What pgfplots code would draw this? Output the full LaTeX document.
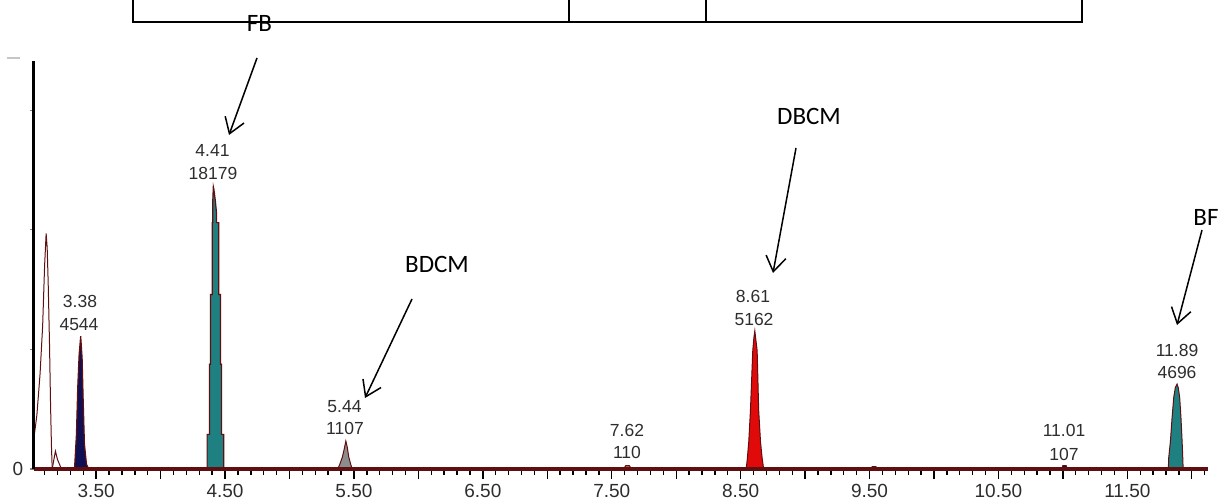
\documentclass[border=0pt]{standalone}
\usepackage{pgfplots}
\pgfplotsset{compat=1.18}
\usepackage{fontspec}
\setmainfont{Liberation Sans}
\newfontfamily\calibri{Carlito}
\usetikzlibrary{arrows.meta}
\definecolor{maroonline}{RGB}{95,15,15}
\definecolor{tealpk}{RGB}{30,128,128}
\definecolor{navypk}{RGB}{15,15,85}
\definecolor{redpk}{RGB}{225,10,10}
\definecolor{graypk}{RGB}{140,140,140}
\definecolor{orangepk}{RGB}{200,110,60}
\definecolor{lbl}{RGB}{45,45,45}
\begin{document}
\begin{tikzpicture}[x=0.5pt,y=0.5pt]
\path[use as bounding box] (0,0) rectangle (1221,499);
\begin{axis}[
  at={(26,25)}, anchor=south west,
  scale only axis, width=587pt, height=204pt,
  xmin=3.014, xmax=12.122, ymin=0, ymax=3.41,
  axis x line=bottom, axis y line=left,
  x axis line style={-, draw=maroonline, line width=1.8pt},
  y axis line style={-, draw=black, line width=1.5pt},
  axis on top,
  tick align=outside,
  major tick length=5pt, minor tick length=3pt,
  xtick={3.5,4,...,12},
  xticklabels={3.50,,4.50,,5.50,,6.50,,7.50,,8.50,,9.50,,10.50,,11.50,},
  minor xtick={3.1,3.2,...,12.15},
  xtick style={draw=black, line width=0.7pt},
  minor tick style={draw=black, line width=0.7pt},
  ytick={0,1,2,3},
  yticklabels={0,,,},
  ytick style={draw=gray, line width=0.6pt, /pgfplots/major tick length=2pt},
  xticklabel style={font=\fontsize{9.5pt}{11pt}\selectfont, text=lbl, anchor=north, inner sep=0pt, yshift=-2.3pt},
  yticklabel style={font=\fontsize{9.5pt}{11pt}\selectfont, text=lbl, anchor=east, inner sep=0pt, xshift=0pt},
  clip=false,
]
% solvent peak
\addplot[fill=white, draw=maroonline, line width=0.5pt] coordinates {
(3.014,0)(3.014,0.26)(3.022,0.30)(3.040,0.45)(3.065,0.80)(3.085,1.20)(3.100,1.70)(3.112,1.97)(3.120,1.85)(3.128,1.55)(3.138,1.05)(3.146,0.55)(3.153,0.20)(3.159,0)} \closedcycle;
\addplot[fill=white, draw=maroonline, line width=0.5pt] coordinates {
(3.159,0)(3.172,0.08)(3.184,0.15)(3.200,0.08)(3.231,0)} \closedcycle;
% 3.38
\addplot[fill=navypk, draw=maroonline, line width=0.6pt] coordinates {
(3.332,0)(3.347,0.29)(3.357,0.68)(3.368,0.96)(3.380,1.11)(3.391,0.93)(3.399,0.59)(3.409,0.21)(3.425,0.04)(3.443,0)} \closedcycle;
% 4.41
\addplot[fill=tealpk, draw=maroonline, line width=0.6pt] coordinates {
(4.355,0)(4.361,0)(4.361,0.29)(4.379,0.29)(4.379,0.876)(4.387,0.876)(4.387,1.46)(4.400,1.46)(4.400,2.06)(4.405,2.06)(4.405,2.25)(4.409,2.36)(4.413,2.34)(4.418,2.30)(4.425,2.24)(4.433,2.15)(4.433,2.06)(4.451,2.06)(4.451,1.46)(4.464,1.46)(4.464,0.876)(4.472,0.876)(4.472,0.29)(4.490,0.29)(4.490,0)(4.495,0)} \closedcycle;
% 5.44
\addplot[fill=graypk, draw=maroonline, line width=0.5pt] coordinates {
(5.374,0)(5.390,0.04)(5.410,0.10)(5.425,0.17)(5.437,0.234)(5.447,0.19)(5.460,0.10)(5.475,0.04)(5.486,0)} \closedcycle;
% 7.62
\addplot[fill=orangepk, draw=maroonline, line width=0.5pt] coordinates {
(7.590,0)(7.610,0.03)(7.635,0.03)(7.655,0)} \closedcycle;
% 8.61
\addplot[fill=redpk, draw=maroonline, line width=0.5pt] coordinates {
(8.538,0)(8.545,0.02)(8.552,0.09)(8.563,0.23)(8.576,0.49)(8.594,0.99)(8.603,1.10)(8.610,1.155)(8.616,1.10)(8.628,0.99)(8.640,0.49)(8.654,0.23)(8.667,0.09)(8.676,0.02)(8.682,0)} \closedcycle;
% 9.53
\addplot[fill=white, draw=maroonline, line width=0.5pt] coordinates {
(9.510,0)(9.520,0.02)(9.550,0.02)(9.560,0)} \closedcycle;
% 11.01
\addplot[fill=navypk, draw=maroonline, line width=0.5pt] coordinates {
(10.990,0)(11.000,0.03)(11.025,0.03)(11.035,0)} \closedcycle;
% 11.89
\addplot[fill=tealpk, draw=maroonline, line width=0.5pt] coordinates {
(11.818,0)(11.821,0.095)(11.834,0.23)(11.847,0.43)(11.860,0.60)(11.872,0.68)(11.886,0.71)(11.895,0.68)(11.906,0.60)(11.916,0.43)(11.925,0.23)(11.930,0.095)(11.933,0)} \closedcycle;
\end{axis}
% top box
\draw[line width=1pt] (133,510) -- (133,477) -- (1082,477) -- (1082,510);
\draw[line width=1pt] (569,510) -- (569,477);
\draw[line width=1pt] (706,510) -- (706,477);
% gray remnant
\draw[gray!45, line width=0.7pt] (7,441) -- (20,441);
% annotations
\tikzset{ann/.style={font=\calibri\fontsize{12.5pt}{14pt}\selectfont, anchor=base, inner sep=0pt},
  arr/.style={line width=0.75pt, -{Straight Barb[length=7.5pt,width=10pt]}},
  pl/.style={font=\fontsize{8.75pt}{10pt}\selectfont, text=lbl, inner sep=0pt}}
\node[ann] at (259.5,467) {FB};
\node[ann] at (437,227) {BDCM};
\node[ann] at (809,374) {DBCM};
\node[ann] at (1206,274) {BF};
\draw[arr] (257,441) -- (229,364);
\draw[arr] (412,200) -- (365,101);
\draw[arr] (796,351) -- (773,226);
\draw[arr] (1202,269) -- (1177,174);
% peak labels
\node[pl] at (80,198) {3.38};
\node[pl] at (79,174) {4544};
\node[pl] at (212.5,349) {4.41};
\node[pl] at (213,326) {18179};
\node[pl] at (344.5,92) {5.44};
\node[pl] at (345,70.5) {1107};
\node[pl] at (627,69) {7.62};
\node[pl] at (627,47) {110};
\node[pl] at (753,203) {8.61};
\node[pl] at (754,180) {5162};
\node[pl] at (1064,69) {11.01};
\node[pl] at (1064,45) {107};
\node[pl] at (1177,149) {11.89};
\node[pl] at (1177,127) {4696};
\end{tikzpicture}
\end{document}
